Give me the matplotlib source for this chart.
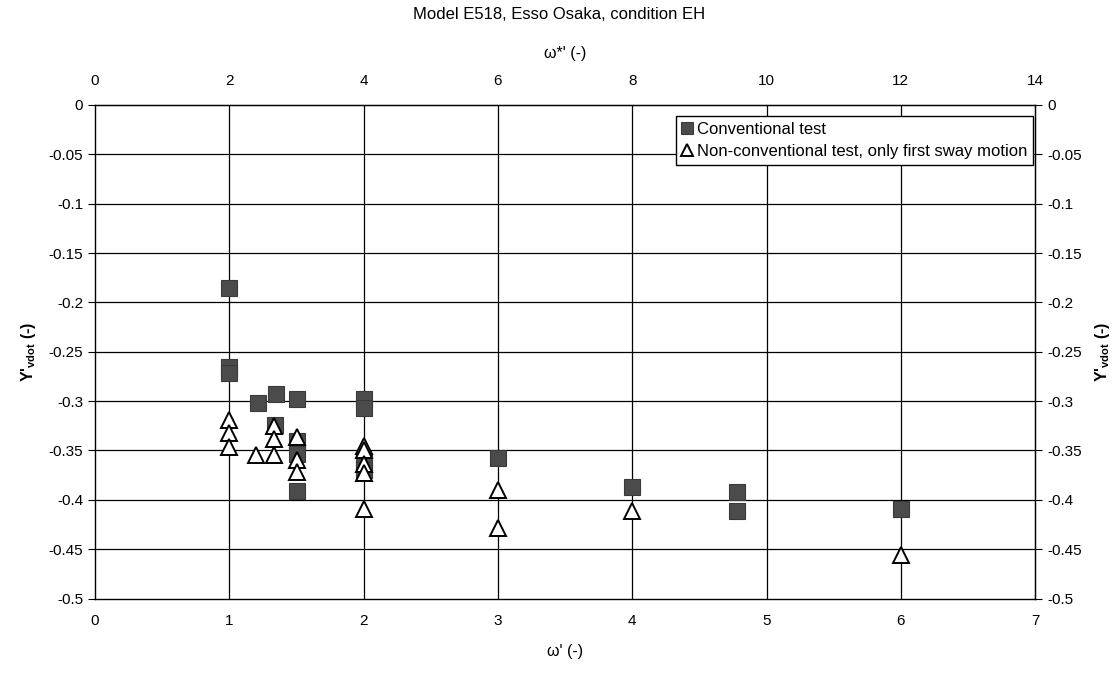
import numpy as np
import matplotlib.pyplot as plt
from matplotlib.ticker import FuncFormatter

plt.rcParams['font.family'] = ['Liberation Sans', 'DejaVu Sans']

# conventional test (filled squares)
conv_x = [1.0, 1.0, 1.0, 1.21, 1.35, 1.5, 1.34, 1.5, 1.5, 1.5,
          2.0, 2.0, 2.0, 2.0, 3.0, 4.0, 4.78, 4.78, 6.0]
conv_y = [-0.185, -0.265, -0.272, -0.302, -0.293, -0.298, -0.324, -0.340,
          -0.354, -0.391, -0.298, -0.307, -0.362, -0.370, -0.358, -0.387,
          -0.392, -0.411, -0.409]

# non-conventional test, only first sway motion (open triangles)
nc_x = [1.0, 1.0, 1.0, 1.2, 1.33, 1.33, 1.33, 1.5, 1.5, 1.5,
        2.0, 2.0, 2.0, 2.0, 2.0, 3.0, 3.0, 4.0, 6.0]
nc_y = [-0.319, -0.332, -0.347, -0.355, -0.325, -0.338, -0.355, -0.336,
        -0.360, -0.372, -0.345, -0.350, -0.364, -0.373, -0.409, -0.390,
        -0.429, -0.411, -0.456]

x_ticks = [0, 1, 2, 3, 4, 5, 6, 7]
top_ticks = [0, 2, 4, 6, 8, 10, 12, 14]
y_ticks = [0, -0.05, -0.1, -0.15, -0.2, -0.25, -0.3, -0.35, -0.4, -0.45, -0.5]


def fmt(v, pos=None):
    if abs(v) < 1e-9:
        return '0'
    return f'{v:g}'


fig = plt.figure(figsize=(11.19, 7.0), dpi=100)
ax = fig.add_axes([0.085, 0.145, 0.84, 0.705])

ax.set_xlim(0, 7)
ax.set_ylim(-0.5, 0)
ax.set_xticks(x_ticks)
ax.set_yticks(y_ticks)
ax.yaxis.set_major_formatter(FuncFormatter(fmt))
ax.tick_params(axis='x', length=0, pad=11, labelsize=11)
ax.tick_params(axis='y', length=5, direction='out', width=0.8, labelsize=11)

# grid: horizontal every 0.05, vertical at x' = 1..6
for y in y_ticks[1:-1]:
    ax.axhline(y, color='black', lw=0.9, zorder=1)
for x in x_ticks[1:-1]:
    ax.axvline(x, color='black', lw=0.9, zorder=1)
for s in ax.spines.values():
    s.set_linewidth(1.0)

ax.plot(conv_x, conv_y, linestyle='none', marker='s', ms=12,
        mfc='#4b4b4b', mec='#3a3a3a', mew=0.8, zorder=3,
        label='Conventional test')
ax.plot(nc_x, nc_y, linestyle='none', marker='^', ms=11,
        mfc='white', mec='black', mew=1.4, zorder=4,
        label='Non-conventional test, only first sway motion')

ax.set_xlabel("ω' (-)", fontsize=11.5, labelpad=12)
ax.set_ylabel(r"Y'$_{\mathregular{vdot}}$ (-)", fontsize=11.5,
              fontweight='bold', labelpad=8)

top = ax.secondary_xaxis('top', functions=(lambda x: 2 * x, lambda x: x / 2))
top.set_xticks(top_ticks)
top.tick_params(length=0, pad=12, labelsize=11)
top.set_xlabel("ω*' (-)", fontsize=11.5, labelpad=12)

right = ax.secondary_yaxis('right')
right.set_yticks(y_ticks)
right.yaxis.set_major_formatter(FuncFormatter(fmt))
right.tick_params(length=5, direction='out', width=0.8, labelsize=11)
right.set_ylabel(r"Y'$_{\mathregular{vdot}}$ (-)", fontsize=11.5,
                 fontweight='bold', labelpad=8)

leg = ax.legend(loc='upper right', bbox_to_anchor=(0.998, 0.978),
                borderaxespad=0, fancybox=False, framealpha=1,
                edgecolor='black', fontsize=12, handlelength=0.6,
                handletextpad=0.3, borderpad=0.35, labelspacing=0.45,
                markerscale=0.75)
leg.get_frame().set_linewidth(1.0)
leg.set_zorder(5)

fig.suptitle('Model E518, Esso Osaka, condition EH', fontsize=12, y=0.99)

fig.savefig('out.png', dpi=100)
